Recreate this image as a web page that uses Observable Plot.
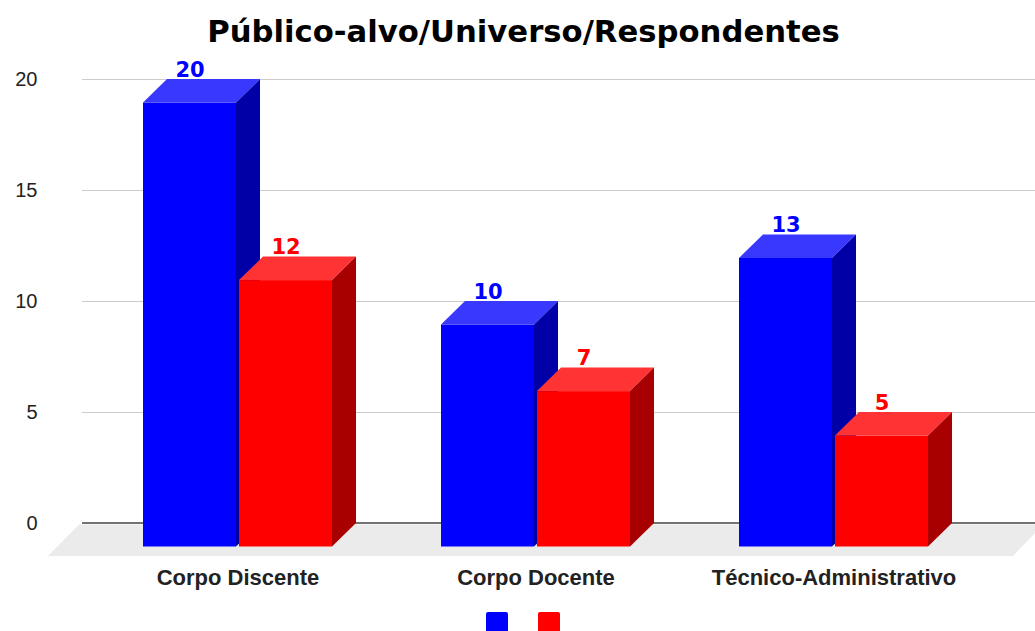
<!DOCTYPE html>
<html><head><meta charset="utf-8">
<script src="https://cdn.jsdelivr.net/npm/d3@7"></script>
<script src="https://cdn.jsdelivr.net/npm/@observablehq/plot@0.6"></script>
<style>
body{margin:0;background:#fff;width:1035px;height:631px;overflow:hidden;position:relative;}
#title{position:absolute;left:6px;top:16px;width:1035px;text-align:center;font-family:"DejaVu Sans",sans-serif;font-weight:bold;font-size:30.7px;line-height:31px;color:#000;white-space:nowrap;}
#chart{position:absolute;left:0;top:60px;}
#legend{position:absolute;top:612px;left:0;width:1035px;height:22px;}
.sw{position:absolute;top:0;width:22px;height:22px;border-radius:2px;}
</style></head><body>
<div id="title">Público-alvo/Universo/Respondentes</div>
<div id="chart"></div>
<div id="legend"></div>
<script>
// ---- data ----
const categories = ["Corpo Discente", "Corpo Docente", "Técnico-Administrativo"];
const seriesNames = ["Universo", "Respondentes"];
const universo = [20, 10, 13];
const respondentes = [12, 7, 5];
const yTicks = [0, 5, 10, 15, 20];

// ---- styles ----
const frontColors = ["#0000ff", "#ff0000"];
const topColors = ["#3838ff", "#ff3333"];
const sideColors = ["#0000a6", "#a80000"];
const DX = 24, DY = 23.5, GAP = 3;

const seriesValues = [universo, respondentes];
const data = categories.flatMap((c, i) => seriesValues.map((vals, s) => ({cat: c, s, value: vals[i]})));

function bandwidthOf(sx) {
  return typeof sx.bandwidth === "function" ? sx.bandwidth() : 189;
}

function bars3d(index, scales, values, dims) {
  const g = d3.create("svg:g");
  const bw = bandwidthOf(scales.x);
  const barW = (bw - GAP) / 2;
  const y0 = scales.y(0);
  for (const i of index) {
    const d = data[i];
    const x0 = scales.x(d.cat) + (d.s ? barW + GAP : 0);
    const yv = scales.y(d.value);
    g.append("rect")
      .attr("x", x0).attr("y", yv + DY)
      .attr("width", barW).attr("height", y0 - yv)
      .attr("fill", frontColors[d.s]);
    g.append("polygon")
      .attr("points", [[x0, yv + DY], [x0 + DX, yv], [x0 + barW + DX, yv], [x0 + barW, yv + DY]].map(p => p.join(",")).join(" "))
      .attr("fill", topColors[d.s]);
    g.append("polygon")
      .attr("points", [[x0 + barW, yv + DY], [x0 + barW + DX, yv], [x0 + barW + DX, y0], [x0 + barW, y0 + DY]].map(p => p.join(",")).join(" "))
      .attr("fill", sideColors[d.s]);
  }
  return g.node();
}

function floorAndAxis(index, scales, values, dims) {
  const g = d3.create("svg:g");
  const y0 = scales.y(0);
  const ml = dims.marginLeft, w = dims.width;
  g.append("polygon")
    .attr("points", [[ml - 3, y0 + 1.5], [w + 8, y0 + 1.5], [w - 22, y0 + 33], [ml - 34, y0 + 33]].map(p => p.join(",")).join(" "))
    .attr("fill", "#ebebeb");
  g.append("line")
    .attr("x1", ml).attr("x2", w).attr("y1", y0).attr("y2", y0)
    .attr("stroke", "#444").attr("stroke-width", 1.3);
  return g.node();
}

const bw0 = 189;
const off = (bw0 - GAP) / 4 + GAP / 2;

const chart = Plot.plot({
  width: 1035,
  height: 540,
  marginLeft: 82,
  marginRight: 0,
  marginTop: 19,
  marginBottom: 77,
  style: {fontFamily: "'Liberation Sans', Arial, sans-serif", fontSize: "20px", color: "#222", background: "white", overflow: "visible"},
  x: {type: "band", domain: categories, range: [82, 988], paddingInner: 0.367, paddingOuter: 0.2},
  y: {domain: [0, 20]},
  marks: [
    Plot.ruleY([0], {render: floorAndAxis}),
    Plot.ruleY(yTicks.filter(t => t > 0), {stroke: "#cccccc", strokeWidth: 1.2}),
    Plot.axisY({ticks: yTicks, tickSize: 0, tickPadding: 45, fontSize: 20, label: null}),
    Plot.axisX({tickSize: 0, tickPadding: 46, fontSize: 22, fontWeight: "bold", label: null}),
    Plot.barY(data, {x: "cat", y1: 0, y2: "value", render: bars3d}),
    Plot.text(data.filter(d => d.s === 0), {x: "cat", y: "value", text: d => String(d.value), dx: -off, dy: -3, lineAnchor: "bottom", fill: frontColors[0], fontWeight: "bold", fontSize: 21, fontFamily: "DejaVu Sans"}),
    Plot.text(data.filter(d => d.s === 1), {x: "cat", y: "value", text: d => String(d.value), dx: off, dy: -3, lineAnchor: "bottom", fill: frontColors[1], fontWeight: "bold", fontSize: 21, fontFamily: "DejaVu Sans"})
  ]
});
document.getElementById("chart").appendChild(chart);

const legend = document.getElementById("legend");
const legendLeft = [486, 538];
seriesNames.forEach((name, s) => {
  const sw = document.createElement("div");
  sw.className = "sw";
  sw.title = name;
  sw.style.left = legendLeft[s] + "px";
  sw.style.background = frontColors[s];
  legend.appendChild(sw);
});
</script>
</body></html>
